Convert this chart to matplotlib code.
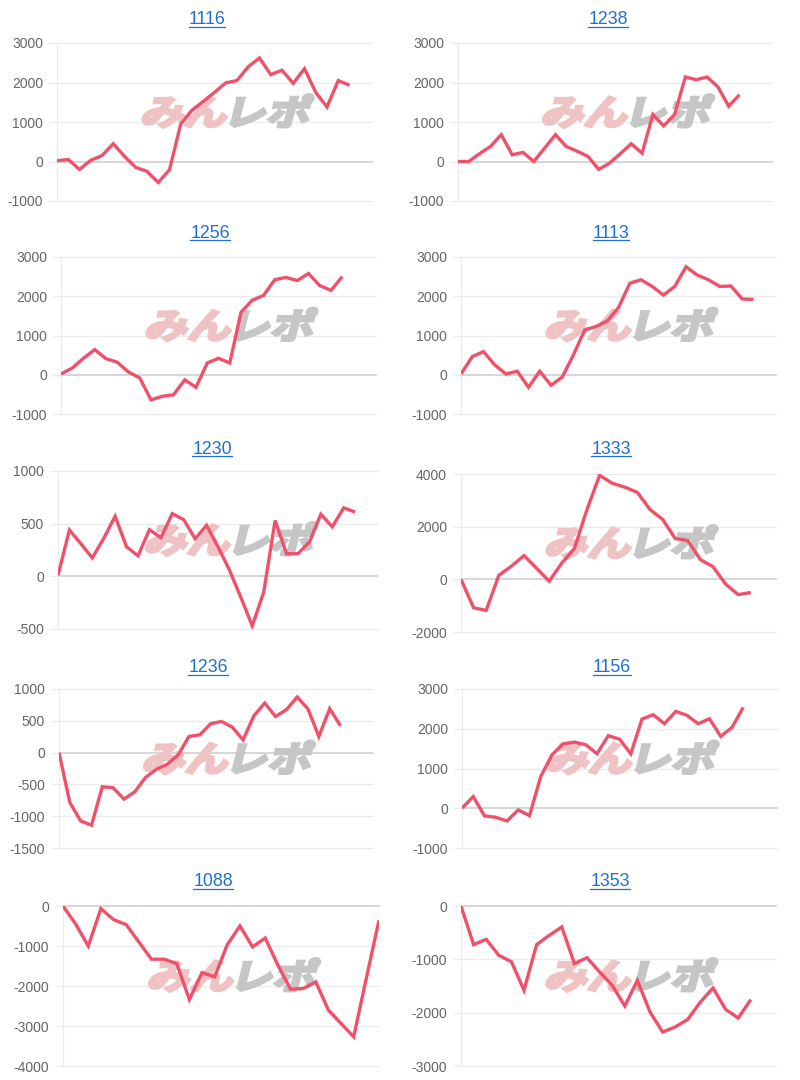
import matplotlib
matplotlib.use("Agg")
import matplotlib.pyplot as plt
from matplotlib.textpath import TextPath
from matplotlib.font_manager import FontProperties
from matplotlib.patches import PathPatch
from matplotlib.transforms import Affine2D
from matplotlib.lines import Line2D

plt.rcParams['font.family'] = ['Liberation Sans', 'DejaVu Sans']

# ---------------- data ----------------
titles = ["1116", "1238", "1256", "1113", "1230", "1333", "1236", "1156", "1088", "1353"]

s1116 = [20, 50, -200, 30, 150, 450, 130, -150, -250, -530, -210, 950, 1300, 1520,
         1750, 1990, 2050, 2400, 2620, 2200, 2310, 1980, 2350, 1750, 1380, 2050, 1930]
s1238 = [0, 0, 200, 380, 680, 170, 230, 0, 340, 680, 380, 260, 130, -200, -40, 200,
         450, 210, 1190, 900, 1190, 2140, 2070, 2140, 1890, 1400, 1690]
s1256 = [20, 170, 420, 640, 410, 320, 70, -80, -640, -550, -510, -130, -320, 300, 420,
         300, 1590, 1900, 2020, 2420, 2480, 2400, 2580, 2270, 2150, 2500]
s1113 = [20, 460, 590, 250, 20, 90, -320, 90, -270, -60, 510, 1140, 1230, 1370, 1710,
         2330, 2420, 2250, 2030, 2250, 2750, 2540, 2420, 2250, 2260, 1930, 1920]
s1230 = [10, 440, 310, 175, 360, 570, 280, 195, 443, 367, 595, 538, 357, 484, 280, 60,
         -200, -470, -150, 530, 215, 215, 325, 590, 470, 650, 610]
s1333 = [0, -1080, -1180, 150, 500, 900, 420, -70, 620, 1170, 2650, 3950, 3650, 3500,
         3300, 2650, 2280, 1550, 1470, 750, 480, -180, -580, -500]
s1236 = [0, -784, -1074, -1142, -537, -553, -732, -616, -389, -263, -184, -37, 253, 279,
         453, 490, 400, 200, 579, 779, 568, 674, 874, 684, 253, 690, 421]
s1156 = [0, 294, -193, -227, -320, -42, -185, 798, 1345, 1622, 1664, 1597, 1370, 1824,
         1740, 1370, 2244, 2353, 2126, 2437, 2336, 2126, 2252, 1807, 2034, 2538]
s1088 = [0, -450, -1000, -67, -340, -466, -900, -1330, -1330, -1440, -2338, -1664, -1772,
         -965, -500, -1023, -800, -1480, -2080, -2063, -1897, -2604, -2937, -3270, -1800, -358]
s1353 = [0, -725, -625, -925, -1044, -1581, -725, -550, -394, -1081, -969, -1237, -1487,
         -1875, -1394, -1987, -2362, -2269, -2125, -1800, -1537, -1937, -2100, -1756]

series = [s1116, s1238, s1256, s1113, s1230, s1333, s1236, s1156, s1088, s1353]
slots = [29, 30, 29, 29, 29, 26, 30, 29, 26, 26]

yticks = [
    [-1000, 0, 1000, 2000, 3000],
    [-1000, 0, 1000, 2000, 3000],
    [-1000, 0, 1000, 2000, 3000],
    [-1000, 0, 1000, 2000, 3000],
    [-500, 0, 500, 1000],
    [-2000, 0, 2000, 4000],
    [-1500, -1000, -500, 0, 500, 1000],
    [-1000, 0, 1000, 2000, 3000],
    [-4000, -3000, -2000, -1000, 0],
    [-3000, -2000, -1000, 0],
]

# ---------------- layout (pixels, top-based) ----------------
W, H = 800, 1080
boxes = [
    (57, 372, 43, 201), (458, 772, 43, 201),
    (61, 376, 257, 414), (461, 776, 257, 414),
    (58, 378, 471, 629), (461, 776, 474, 632),
    (59, 373, 689, 848), (462, 777, 689, 848),
    (63, 379, 906, 1066), (461, 776, 906, 1066),
]
title_pos = [(207, 20), (608, 20), (210, 233), (611, 233), (212, 449), (611, 449),
             (208, 668), (612, 668), (213, 882), (610, 882)]

LINE = '#f0506a'
GRID = '#ebebeb'
ZERO = '#cfcfcf'
LINK = '#1f70d0'

fig = plt.figure(figsize=(W / 100, H / 100), dpi=100)
fig.patch.set_facecolor('white')

fp_cjk = FontProperties(family='Noto Sans CJK JP', weight='bold')


def add_watermark(ax, cx, cy):
    # cx, cy in display pixels (bottom-based)
    p1 = TextPath((0, 0), "みん", size=40, prop=fp_cjk)
    p2 = TextPath((0, 0), "レポ", size=40, prop=fp_cjk)
    e1 = p1.get_extents()
    e2 = p2.get_extents()
    gap = 6
    total_w = e1.width + gap + e2.width
    h = max(e1.y1, e2.y1) - min(e1.y0, e2.y0)
    sx = 165.0 / total_w
    sy = 33.0 / h
    y0 = min(e1.y0, e2.y0)
    base = Affine2D().translate(0, -y0 - h / 2).scale(sx, sy).skew_deg(14, 0)
    t1 = base + Affine2D().translate(cx - 165 / 2 - e1.x0 * sx, cy)
    t2 = base + Affine2D().translate(cx - 165 / 2 + (e1.width + gap - e2.x0) * sx, cy)
    pa = PathPatch(p1, facecolor='#efc3c3', edgecolor='#efc3c3', lw=2.2,
                   joinstyle='miter', zorder=1.5)
    pb = PathPatch(p2, facecolor='#c6c6c6', edgecolor='#c6c6c6', lw=2.2,
                   joinstyle='miter', zorder=1.5)
    pa.set_transform(t1)
    pb.set_transform(t2)
    ax.add_artist(pa)
    ax.add_artist(pb)


title_texts = []
for i in range(10):
    l, r, t, b = boxes[i]
    ax = fig.add_axes([l / W, 1 - b / H, (r - l) / W, (b - t) / H])
    ax.set_facecolor('none')
    data = series[i]
    xs = list(range(len(data)))
    ax.plot(xs, data, color=LINE, lw=2.4, zorder=3, solid_joinstyle='miter',
            solid_capstyle='butt')
    ax.set_xlim(0, slots[i] - 1)
    yt = yticks[i]
    ax.set_ylim(yt[0], yt[-1])
    ax.set_yticks(yt)
    ax.set_yticklabels([str(v) for v in yt])
    ax.set_xticks([])
    for v in yt:
        ax.axhline(v, color=ZERO if v == 0 else GRID, lw=1.2 if v == 0 else 0.9,
                   zorder=1, clip_on=False)
    for s in ['top', 'right', 'bottom']:
        ax.spines[s].set_visible(False)
    ax.spines['left'].set_color(GRID)
    ax.spines['left'].set_linewidth(0.9)
    ax.tick_params(axis='y', length=6, width=0.9, color=GRID, pad=4,
                   labelsize=10, labelcolor='#666666')
    # watermark
    cx = (l + r) / 2 + 13
    cy = H - ((t + b) / 2 - 11)
    add_watermark(ax, cx, cy)
    # title
    tx, ty = title_pos[i]
    tt = fig.text(tx / W, 1 - ty / H, titles[i], ha='center', va='center',
                  fontsize=12.8, color=LINK)
    title_texts.append(tt)

# underline titles
fig.canvas.draw()
renderer = fig.canvas.get_renderer()
for tt in title_texts:
    bb = tt.get_window_extent(renderer)
    y = bb.y0 + 1.5
    ln = Line2D([bb.x0 / W, bb.x1 / W], [y / H, y / H], transform=fig.transFigure,
                color=LINK, lw=0.9)
    fig.add_artist(ln)

fig.savefig('out.png', dpi=100, facecolor='white')
